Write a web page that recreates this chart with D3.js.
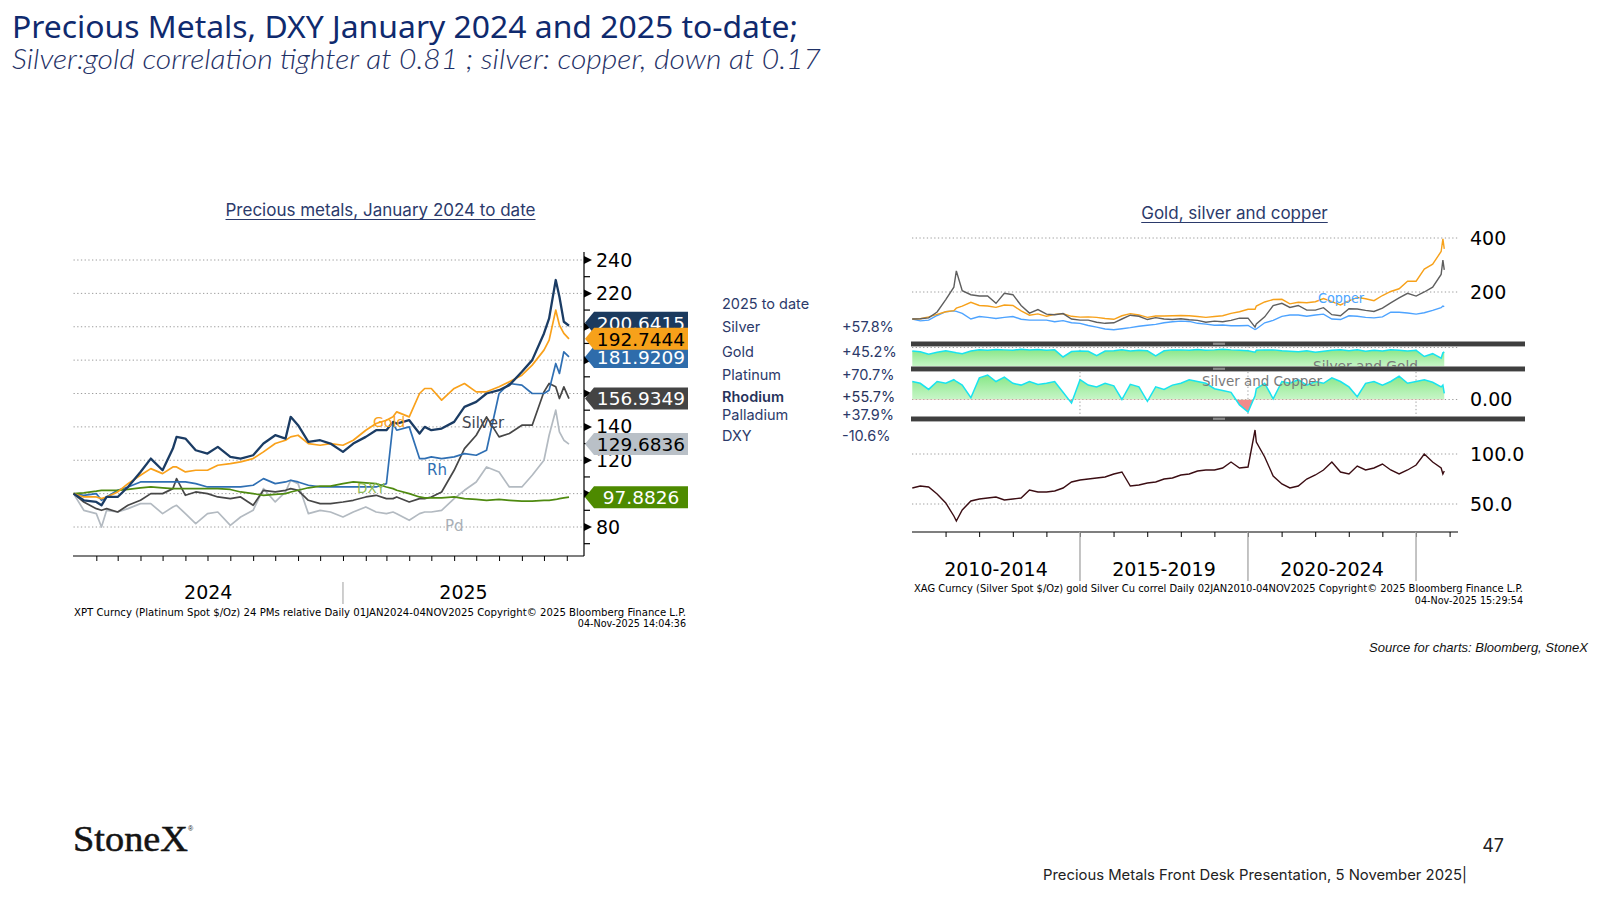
<!DOCTYPE html>
<html>
<head>
<meta charset="utf-8">
<title>Precious Metals, DXY January 2024 and 2025 to-date</title>
<script src="https://cdn.jsdelivr.net/npm/d3@7/dist/d3.min.js"></script>
<style>
  body { margin: 0; background: #fff; }
  svg { display: block; }
</style>
</head>
<body>
<svg id="slide" width="1600" height="900"></svg>
<script>
// ---------- left chart: precious metals and DXY, rebased to 100 on 01JAN2024 ----------
var pmDates = ["2024-01-01","2024-01-15","2024-02-01","2024-02-08","2024-02-15","2024-03-01",
  "2024-03-15","2024-04-01","2024-04-15","2024-05-01","2024-05-15","2024-05-20",
  "2024-06-01","2024-06-15","2024-07-01","2024-07-15","2024-08-01","2024-08-15",
  "2024-09-01","2024-09-15","2024-10-01","2024-10-15","2024-10-22","2024-11-01",
  "2024-11-15","2024-12-01","2024-12-15","2025-01-01","2025-01-15","2025-02-01",
  "2025-02-15","2025-03-01","2025-03-10","2025-03-15","2025-04-01","2025-04-15",
  "2025-04-22","2025-05-01","2025-05-15","2025-06-01","2025-06-15","2025-07-01",
  "2025-07-15","2025-08-01","2025-08-15","2025-09-01","2025-09-15","2025-10-01",
  "2025-10-08","2025-10-17","2025-10-22","2025-10-28","2025-11-04"];

var silverPM = [100, 96, 95, 93, 98, 98, 104, 113, 121, 114,
  127, 134, 133, 126, 124, 128, 122, 121, 123, 130,
  135, 133, 146, 141, 131, 132, 130, 125, 130, 134,
  138, 138, 143, 142, 144, 136, 140, 138, 139, 143,
  152, 155, 160, 162, 165, 173, 180, 196, 205, 228,
  218, 203, 200.6];
var goldPM = [100, 98, 98, 97, 98, 101, 106, 111, 115, 112,
  116, 116, 113, 114, 114, 117, 118, 119, 121, 125,
  130, 132, 134, 135, 130, 129, 130, 129, 132, 138,
  142, 144, 146, 149, 146, 160, 163, 163, 156, 163,
  166, 161, 161, 164, 167, 171, 177, 186, 192, 210,
  201, 196, 192.7];
var rhodiumPM = [100, 99, 100, 96, 98, 102, 104, 107, 107, 107,
  107, 107, 107, 106, 104, 104, 104, 104, 105, 109,
  106, 107, 108, 107, 105, 104, 104, 104, 104, 104,
  104, 106, 142, 138, 140, 121, 121, 122, 121, 122,
  124, 123, 126, 160, 166, 165, 160, 160, 162, 178,
  172, 185, 181.9];
var platinumPM = [100, 95, 91, 90, 91, 89, 93, 96, 100, 100,
  103, 109, 99, 101, 100, 98, 97, 98, 93, 102,
  101, 102, 103, 102, 96, 94, 94, 95, 96, 98,
  99, 97, 97, 98, 95, 97, 97, 98, 101, 114,
  127, 135, 146, 134, 136, 141, 141, 161, 166, 164,
  157, 164, 156.9];
var palladiumPM = [100, 90, 88, 80, 90, 89, 91, 94, 94, 88,
  92, 93, 88, 82, 88, 89, 81, 86, 90, 103,
  95, 101, 108, 106, 88, 90, 89, 86, 89, 92,
  89, 88, 89, 88, 84, 88, 89, 89, 90, 97,
  102, 107, 116, 113, 104, 104, 111, 120, 135, 150,
  137, 132, 129.7];
var dxyPM = [100, 100.5, 101.5, 102, 102, 102, 102.5, 103.5, 104, 103.5,
  103, 103, 103, 103, 103, 103, 102.5, 101, 100, 99,
  99.5, 100, 101, 102, 103.5, 104.5, 104.5, 106, 107, 106.5,
  106, 104, 103, 102, 100, 98, 97.5, 97.5, 97.5, 98,
  97, 96.5, 96, 96.5, 96, 95.5, 95.5, 96, 96, 96.5,
  97, 97.5, 97.88];

// last values shown in the tags: silver, gold, rhodium, platinum, palladium, DXY
var pmLast = [200.6415, 192.7444, 181.9209, 156.9349, 129.6836, 97.8826];
var pmTicks = [80, 100, 120, 140, 160, 180, 200, 220, 240];
var pmTickLabels = ["80", "", "120", "140", "", "", "", "220", "240"];

var ytdNames = ["Silver", "Gold", "Platinum", "Rhodium", "Palladium", "DXY"];
var ytdChange = ["+57.8%", "+45.2%", "+70.7%", "+55.7%", "+37.9%", "-10.6%"];

// ---------- right chart: gold, silver, copper since 02JAN2010 ----------
var gscDates = ["2010-01-04","2010-04-01","2010-07-01","2010-10-01",
  "2011-01-03","2011-04-01","2011-04-28","2011-07-01","2011-10-03",
  "2012-01-03","2012-04-02","2012-07-02","2012-10-01",
  "2013-01-02","2013-04-01","2013-07-01","2013-10-01",
  "2014-01-02","2014-04-01","2014-07-01","2014-10-01",
  "2015-01-02","2015-04-01","2015-07-01","2015-10-01",
  "2016-01-04","2016-04-01","2016-07-01","2016-10-03",
  "2017-01-03","2017-04-03","2017-07-03","2017-10-02",
  "2018-01-02","2018-04-02","2018-07-02","2018-10-01",
  "2019-01-02","2019-04-01","2019-07-01","2019-10-01",
  "2020-01-02","2020-03-18","2020-04-01","2020-07-01","2020-10-01",
  "2021-01-04","2021-04-01","2021-07-01","2021-10-01",
  "2022-01-03","2022-04-01","2022-07-01","2022-10-03",
  "2023-01-03","2023-04-03","2023-07-03","2023-10-02",
  "2024-01-02","2024-04-01","2024-07-01","2024-10-01",
  "2025-01-02","2025-04-01","2025-07-01","2025-10-01","2025-10-20","2025-11-04"];

var goldRel = [100, 101, 108, 117,
  127, 131, 140, 148, 162,
  150, 148, 143, 152,
  150, 130, 114, 119,
  110, 117, 120, 110,
  107, 108, 106, 102,
  99, 112, 120, 115,
  106, 111, 111, 112,
  113, 112, 109, 106,
  109, 112, 121, 127,
  136, 136, 148, 163, 172,
  173, 156, 162, 160,
  164, 176, 164, 152,
  167, 180, 175, 168,
  187, 202, 212, 240,
  240, 285, 303, 350, 397, 360];
var silverRel = [100, 101, 104, 126,
  172, 218, 278, 205, 190,
  185, 185, 158, 195,
  190, 150, 122, 135,
  118, 116, 120, 100,
  96, 96, 88, 84,
  86, 100, 114, 110,
  98, 105, 100, 98,
  101, 97, 95, 88,
  92, 90, 95, 103,
  103, 70, 82, 108, 150,
  158, 143, 150, 133,
  133, 142, 116, 112,
  138, 137, 132, 128,
  140, 160, 178, 195,
  185, 200, 218, 265, 318, 282];
var copperRel = [100, 93, 96, 113,
  127, 130, 128, 121, 100,
  109, 106, 102, 106,
  109, 99, 96, 96,
  96, 90, 94, 86,
  84, 76, 70, 63,
  60, 64, 68, 73,
  77, 80, 86, 90,
  92, 91, 84, 81,
  77, 78, 75, 75,
  76, 61, 63, 86, 95,
  110, 115, 115, 110,
  115, 118, 100, 98,
  112, 110, 106, 104,
  108, 125, 125, 122,
  118, 123, 132, 142, 148, 146];
var corrSilverGold = [0.85, 0.82, 0.72, 0.80,
  0.86, 0.80, 0.78, 0.74, 0.85,
  0.90, 0.88, 0.92, 0.90,
  0.88, 0.93, 0.90, 0.92,
  0.88, 0.90, 0.60, 0.83,
  0.85, 0.84, 0.66, 0.85,
  0.86, 0.90, 0.85, 0.88,
  0.86, 0.65, 0.86, 0.90,
  0.90, 0.88, 0.92, 0.88,
  0.90, 0.93, 0.90, 0.88,
  0.86, 0.80, 0.88, 0.90, 0.90,
  0.86, 0.84, 0.82, 0.86,
  0.80, 0.84, 0.88, 0.90,
  0.86, 0.90, 0.84, 0.88,
  0.85, 0.90, 0.88, 0.85,
  0.88, 0.62, 0.74, 0.55, 0.78, 0.81];
var corrSilverCopper = [0.50, 0.45, 0.28, 0.50,
  0.45, 0.55, 0.50, 0.40, 0.05,
  0.60, 0.68, 0.50, 0.62,
  0.45, 0.40, 0.50, 0.42,
  0.45, 0.50, 0.20, -0.10,
  0.55, 0.40, 0.35, 0.45,
  0.38, 0.00, 0.42, 0.35,
  -0.05, 0.35, 0.28, 0.40,
  0.45, 0.55, 0.50, 0.45,
  0.30, 0.25, 0.20, -0.15,
  -0.35, 0.10, 0.30, 0.45, 0.02,
  0.50, 0.45, 0.55, 0.40,
  0.50, 0.45, 0.60, 0.50,
  0.35, 0.08, 0.45, 0.50,
  0.40, 0.50, 0.65, 0.45,
  0.50, 0.55, 0.48, 0.35, 0.40, 0.17];
var goldSilverRatio = [66, 68, 67, 60,
  51, 38, 33, 44, 53,
  55, 56, 57, 54,
  55, 56, 64, 62,
  62, 63, 66, 72,
  74, 75, 76, 77,
  80, 82, 68, 69,
  71, 72, 75, 76,
  79, 80, 83, 84,
  84, 86, 92, 86,
  87, 124, 112, 97, 78,
  70, 66, 68, 75,
  79, 84, 92, 82,
  80, 88, 84, 86,
  90, 84, 80, 84,
  89, 100, 92, 86, 80, 83];

var eraLabels = ["2010-2014", "2015-2019", "2020-2024"];

// ------------------------------------------------------------------
var parse = d3.timeParse("%Y-%m-%d");
var pmD = pmDates.map(parse);
var gscD = gscDates.map(parse);
var svg = d3.select("#slide");
var BB = "'DejaVu Sans', Verdana, sans-serif";
var SLIDE = "Inter, 'Noto Sans', sans-serif";

// slide titles
svg.append("text").attr("x", 12).attr("y", 38)
  .attr("font-family", "'Noto Sans', sans-serif").attr("font-size", 31)
  .attr("fill", "#0f2a6e").attr("textLength", 786).attr("lengthAdjust", "spacingAndGlyphs")
  .text("Precious Metals, DXY January 2024 and 2025 to-date;");
svg.append("text").attr("x", 12).attr("y", 69)
  .attr("font-family", "Lato, 'Open Sans', sans-serif").attr("font-style", "italic")
  .attr("font-weight", 300).attr("font-size", 27).attr("fill", "#1f3166")
  .attr("textLength", 809).attr("lengthAdjust", "spacingAndGlyphs")
  .text("Silver:gold correlation tighter at 0.81 ; silver: copper, down at 0.17");

function chartTitle(cx, y, label) {
  var t = svg.append("text").attr("x", cx).attr("y", y).attr("text-anchor", "middle")
    .attr("font-family", SLIDE).attr("font-size", 17).attr("fill", "#2b3a6b").text(label);
  var w = t.node().getComputedTextLength();
  svg.append("line").attr("x1", cx - w / 2).attr("x2", cx + w / 2)
    .attr("y1", y + 3.5).attr("y2", y + 3.5).attr("stroke", "#2b3a6b").attr("stroke-width", 1);
}
chartTitle(380.5, 216, "Precious metals, January 2024 to date");
chartTitle(1234.5, 219, "Gold, silver and copper");

// ================= left chart =================
var gL = svg.append("g").attr("font-family", BB);
var xL = d3.scaleTime().domain([parse("2024-01-01"), parse("2025-11-04")]).range([73.5, 569]);
var yL = d3.scaleLinear().domain([80, 240]).range([527, 260]);

gL.append("g").selectAll("line").data(pmTicks).enter().append("line")
  .attr("x1", 73.5).attr("x2", 584)
  .attr("y1", function(d) { return yL(d); }).attr("y2", function(d) { return yL(d); })
  .attr("stroke", "#9c9c9c").attr("stroke-dasharray", "1.3,2.4");

var pmSeries = [
  {values: palladiumPM, color: "#b3bac1", w: 1.7},
  {values: platinumPM, color: "#474747", w: 1.7},
  {values: rhodiumPM, color: "#2f6fb3", w: 1.7},
  {values: dxyPM, color: "#4f8a10", w: 1.7},
  {values: goldPM, color: "#f9a11b", w: 1.7},
  {values: silverPM, color: "#1b3c64", w: 2.3}
];
var lineL = d3.line()
  .x(function(d, i) { return xL(pmD[i]); })
  .y(function(d) { return yL(d); });
gL.append("g").selectAll("path").data(pmSeries).enter().append("path")
  .attr("d", function(s) { return lineL(s.values); })
  .attr("fill", "none").attr("stroke", function(s) { return s.color; })
  .attr("stroke-width", function(s) { return s.w; }).attr("stroke-linejoin", "round");

// series names drawn in the plot
var pmNames = [
  {t: "Gold", x: 373, y: 427, c: "#f9a11b", s: 14},
  {t: "Silver", x: 462, y: 428, c: "#3f4650", s: 15},
  {t: "Rh", x: 427, y: 475, c: "#2f6fb3", s: 15},
  {t: "Pd", x: 445, y: 531, c: "#a9b0b7", s: 15},
  {t: "DXY", x: 357, y: 493, c: "#8dbb52", s: 13.5}
];
gL.append("g").selectAll("text").data(pmNames).enter().append("text")
  .attr("x", function(d) { return d.x; }).attr("y", function(d) { return d.y; })
  .attr("font-size", function(d) { return d.s; }).attr("fill", function(d) { return d.c; })
  .text(function(d) { return d.t; });

// axes
gL.append("line").attr("x1", 584).attr("x2", 584).attr("y1", 252).attr("y2", 556)
  .attr("stroke", "#000").attr("stroke-width", 1.2);
gL.append("line").attr("x1", 73).attr("x2", 584).attr("y1", 556).attr("y2", 556)
  .attr("stroke", "#000").attr("stroke-width", 1.2);

var monthTicks = d3.timeMonth.range(parse("2024-02-01"), parse("2025-11-02"));
gL.append("g").attr("transform", "translate(0,556)")
  .call(d3.axisBottom(xL).tickValues(monthTicks).tickSize(5).tickFormat(""))
  .call(function(g) { g.select(".domain").remove(); });

gL.append("g").attr("transform", "translate(584,0)")
  .call(d3.axisRight(yL).tickValues(pmTicks).tickSize(0).tickPadding(12)
    .tickFormat(function(d, i) { return pmTickLabels[i]; }))
  .call(function(g) { g.select(".domain").remove(); })
  .attr("font-family", BB).attr("font-size", 19);

gL.append("g").selectAll("path").data(pmTicks).enter().append("path")
  .attr("d", function(d) { var y = yL(d); return "M584," + (y - 4) + "L592," + y + "L584," + (y + 4) + "Z"; })
  .attr("fill", "#000");
gL.append("g").selectAll("line").data(d3.range(70, 241, 20)).enter().append("line")
  .attr("x1", 584).attr("x2", 590)
  .attr("y1", function(d) { return yL(d); }).attr("y2", function(d) { return yL(d); })
  .attr("stroke", "#000").attr("stroke-width", 1.2);

// last-value tags
var tagStyle = [
  {fill: "#1b3a5e", ink: "#fff"},
  {fill: "#f7a11a", ink: "#000"},
  {fill: "#2e6cab", ink: "#fff"},
  {fill: "#444444", ink: "#fff"},
  {fill: "#b9c0c7", ink: "#000"},
  {fill: "#4d8a00", ink: "#fff"}
];
var tags = pmLast.map(function(v, i) {
  return {v: v, cy: yL(v), fill: tagStyle[i].fill, ink: tagStyle[i].ink};
});
var byPos = tags.slice().sort(function(a, b) { return a.cy - b.cy; });
for (var i = byPos.length - 1; i > 0; i--) {
  if (byPos[i].cy - byPos[i - 1].cy < 16) byPos[i - 1].cy = byPos[i].cy - 16;
}
var tagOrder = [0, 2, 1, 3, 4, 5];
var tagG = gL.append("g").selectAll("g").data(tagOrder.map(function(k) { return tags[k]; }))
  .enter().append("g");
tagG.append("path")
  .attr("d", function(d) {
    return "M585," + d.cy + "L594," + (d.cy - 11) + "L688," + (d.cy - 11) +
      "L688," + (d.cy + 11) + "L594," + (d.cy + 11) + "Z";
  })
  .attr("fill", function(d) { return d.fill; });
tagG.append("text").attr("x", 641).attr("y", function(d) { return d.cy + 6.8; })
  .attr("text-anchor", "middle").attr("font-size", 18.5)
  .attr("fill", function(d) { return d.ink; })
  .text(function(d) { return d3.format(".4f")(d.v); });

// year labels and footnote
gL.append("line").attr("x1", xL(parse("2025-01-01"))).attr("x2", xL(parse("2025-01-01")))
  .attr("y1", 582).attr("y2", 604).attr("stroke", "#b5b5b5").attr("stroke-width", 1.3);
gL.append("text").attr("x", (73.5 + xL(parse("2025-01-01"))) / 2).attr("y", 599)
  .attr("text-anchor", "middle").attr("font-size", 19).text("2024");
gL.append("text").attr("x", (xL(parse("2025-01-01")) + 584) / 2).attr("y", 599)
  .attr("text-anchor", "middle").attr("font-size", 19).text("2025");
gL.append("text").attr("x", 74).attr("y", 616).attr("font-size", 9.6)
  .attr("textLength", 612).attr("lengthAdjust", "spacingAndGlyphs")
  .text("XPT Curncy (Platinum Spot  $/Oz) 24 PMs relative Daily 01JAN2024-04NOV2025    Copyright\u00a9 2025 Bloomberg Finance L.P.");
gL.append("text").attr("x", 686).attr("y", 627).attr("font-size", 9.6).attr("text-anchor", "end")
  .text("04-Nov-2025 14:04:36");

// ================= 2025 to date table =================
var tbl = svg.append("g").attr("font-family", SLIDE).attr("font-size", 14.5).attr("fill", "#2c3a6a");
tbl.append("text").attr("x", 722).attr("y", 308.5).text("2025 to date");
var rowY = [332, 356.5, 380, 401.5, 420, 440.5];
ytdNames.forEach(function(n, i) {
  var bold = n === "Rhodium";
  tbl.append("text").attr("x", 722).attr("y", rowY[i])
    .attr("font-weight", bold ? 600 : 400).attr("fill", bold ? "#27325a" : null).text(n);
  tbl.append("text").attr("x", 842).attr("y", rowY[i])
    .attr("fill", bold ? "#27325a" : null).text(ytdChange[i]);
});

// ================= right chart =================
var gR = svg.append("g").attr("font-family", BB);
var xR = d3.scaleTime().domain([parse("2010-01-01"), parse("2026-01-01")]).range([912, 1449.6]);
var yTop = d3.scaleLinear().domain([200, 400]).range([292, 238]);
var ySG = d3.scaleLinear().domain([0.2, 1]).range([366.5, 347.5]);
var ySC = d3.scaleLinear().domain([0, 1]).range([399.5, 363.5]);
var yRat = d3.scaleLinear().domain([50, 100]).range([504, 454]);
var RL = 912, RR = 1458;

var defs = svg.append("defs");
function clip(id, y0, y1) {
  defs.append("clipPath").attr("id", id).append("rect")
    .attr("x", RL).attr("y", y0).attr("width", RR - RL).attr("height", y1 - y0);
}
clip("cTop", 226, 341.5);
clip("cSG", 346, 366.5);
clip("cSCpos", 371, ySC(0));
clip("cSCneg", ySC(0), 416.5);
clip("cSC", 371, 416.5);
clip("cRat", 421, 532);
function grad(id, y0, y1) {
  var g = defs.append("linearGradient").attr("id", id).attr("gradientUnits", "userSpaceOnUse")
    .attr("x1", 0).attr("x2", 0).attr("y1", y0).attr("y2", y1);
  g.append("stop").attr("offset", 0).attr("stop-color", "#7fe57f");
  g.append("stop").attr("offset", 1).attr("stop-color", "#c9f6c9");
}
grad("gSG", 347, 367);
grad("gSC", 372, 400);

function hGrid(vals, sc) {
  gR.append("g").selectAll("line").data(vals).enter().append("line")
    .attr("x1", RL).attr("x2", RR)
    .attr("y1", function(d) { return sc(d); }).attr("y2", function(d) { return sc(d); })
    .attr("stroke", "#9c9c9c").attr("stroke-dasharray", "1.3,2.4");
}
function rLabels(vals, sc, fmt) {
  gR.append("g").attr("transform", "translate(" + RR + ",0)")
    .call(d3.axisRight(sc).tickValues(vals).tickSize(0).tickPadding(12).tickFormat(d3.format(fmt)))
    .call(function(g) { g.select(".domain").remove(); })
    .attr("font-family", BB).attr("font-size", 19);
}
var xAt = function(d, i) { return xR(gscD[i]); };

// top panel: relative performance
hGrid([200, 400], yTop);
var topLines = [
  {values: copperRel, color: "#4da3ff"},
  {values: goldRel, color: "#f7a11a"},
  {values: silverRel, color: "#5f5f5f"}
];
var lineTop = d3.line().x(xAt).y(function(d) { return yTop(d); });
gR.append("g").attr("clip-path", "url(#cTop)").selectAll("path").data(topLines).enter().append("path")
  .attr("d", function(s) { return lineTop(s.values); })
  .attr("fill", "none").attr("stroke", function(s) { return s.color; }).attr("stroke-width", 1.4);
gR.append("text").attr("x", 1318).attr("y", 303).attr("font-size", 14.5).attr("fill", "#4da6ff")
  .attr("textLength", 46).attr("lengthAdjust", "spacingAndGlyphs").text("Copper");
rLabels([200, 400], yTop, "d");

// correlation panels
var eraBounds = [parse("2015-01-01"), parse("2020-01-01"), parse("2025-01-01")];
gR.append("g").selectAll("line").data(eraBounds).enter().append("line")
  .attr("x1", function(d) { return xR(d); }).attr("x2", function(d) { return xR(d); })
  .attr("y1", 346).attr("y2", 416.5)
  .attr("stroke", "#9c9c9c").attr("stroke-dasharray", "1.3,2.4");

hGrid([1], ySG);
var pSG = gR.append("g").attr("clip-path", "url(#cSG)");
pSG.append("path").datum(corrSilverGold)
  .attr("d", d3.area().x(xAt).y0(366.5).y1(function(d) { return ySG(d); }))
  .attr("fill", "url(#gSG)");
pSG.append("path").datum(corrSilverGold)
  .attr("d", d3.line().x(xAt).y(function(d) { return ySG(d); }))
  .attr("fill", "none").attr("stroke", "#19e3ef").attr("stroke-width", 1.5);
pSG.append("text").attr("x", 1313).attr("y", 371).attr("font-size", 14.5).attr("fill", "#7a7a7a")
  .attr("textLength", 105).attr("lengthAdjust", "spacingAndGlyphs").text("Silver and Gold");

hGrid([0], ySC);
var areaSC = d3.area().x(xAt).y0(ySC(0)).y1(function(d) { return ySC(d); });
gR.append("path").datum(corrSilverCopper).attr("clip-path", "url(#cSCpos)")
  .attr("d", areaSC).attr("fill", "url(#gSC)");
gR.append("path").datum(corrSilverCopper).attr("clip-path", "url(#cSCneg)")
  .attr("d", areaSC).attr("fill", "#f28a8a");
gR.append("path").datum(corrSilverCopper).attr("clip-path", "url(#cSC)")
  .attr("d", d3.line().x(xAt).y(function(d) { return ySC(d); }))
  .attr("fill", "none").attr("stroke", "#19e3ef").attr("stroke-width", 1.5);
gR.append("text").attr("x", 1202).attr("y", 386).attr("font-size", 14.5).attr("fill", "#7a7a7a")
  .attr("textLength", 120).attr("lengthAdjust", "spacingAndGlyphs").text("Silver and Copper");
rLabels([0], ySC, ".2f");

// gold / silver ratio panel
hGrid([50, 100], yRat);
gR.append("path").datum(goldSilverRatio).attr("clip-path", "url(#cRat)")
  .attr("d", d3.line().x(xAt).y(function(d) { return yRat(d); }))
  .attr("fill", "none").attr("stroke", "#3b0d13").attr("stroke-width", 1.4);
rLabels([50, 100], yRat, ".1f");

// panel separators
[341.5, 366.5, 416.5].forEach(function(y) {
  gR.append("rect").attr("x", 911).attr("y", y).attr("width", 614).attr("height", 4.5).attr("fill", "#3f3f3f");
  gR.append("rect").attr("x", 911).attr("y", y + 4.5).attr("width", 614).attr("height", 0.8).attr("fill", "#9a9a9a");
  gR.append("rect").attr("x", 1213).attr("y", y + 1.2).attr("width", 12).attr("height", 2.2).attr("fill", "#8a8a8a");
});

// time axis
gR.append("line").attr("x1", RL).attr("x2", RR).attr("y1", 532).attr("y2", 532)
  .attr("stroke", "#000").attr("stroke-width", 1.2);
var yearTicks = d3.timeYear.range(parse("2011-01-01"), parse("2026-01-02"));
gR.append("g").attr("transform", "translate(0,532)")
  .call(d3.axisBottom(xR).tickValues(yearTicks).tickSize(5).tickFormat(""))
  .call(function(g) { g.select(".domain").remove(); });
gR.append("g").selectAll("line").data(eraBounds).enter().append("line")
  .attr("x1", function(d) { return xR(d); }).attr("x2", function(d) { return xR(d); })
  .attr("y1", 532).attr("y2", 581).attr("stroke", "#b0b0b0").attr("stroke-width", 1.5);
var eraEdges = [parse("2010-01-01")].concat(eraBounds);
gR.append("g").selectAll("text").data(eraLabels).enter().append("text")
  .attr("x", function(d, i) { return (xR(eraEdges[i]) + xR(eraEdges[i + 1])) / 2; })
  .attr("y", 576).attr("text-anchor", "middle").attr("font-size", 19)
  .text(function(d) { return d; });
gR.append("text").attr("x", 914).attr("y", 592).attr("font-size", 9.6)
  .attr("textLength", 609).attr("lengthAdjust", "spacingAndGlyphs")
  .text("XAG Curncy (Silver Spot  $/Oz) gold Silver Cu correl Daily 02JAN2010-04NOV2025 Copyright\u00a9 2025 Bloomberg Finance L.P.");
gR.append("text").attr("x", 1523).attr("y", 604).attr("font-size", 9.6).attr("text-anchor", "end")
  .text("04-Nov-2025 15:29:54");

// ================= slide footer =================
svg.append("text").attr("x", 1588).attr("y", 652).attr("text-anchor", "end")
  .attr("font-family", "'Liberation Sans', Arial, sans-serif").attr("font-style", "italic")
  .attr("font-size", 13).attr("fill", "#111").text("Source for charts: Bloomberg, StoneX");
svg.append("text").attr("x", 73).attr("y", 851)
  .attr("font-family", "'Liberation Serif', 'Times New Roman', serif").attr("font-size", 36)
  .attr("fill", "#141414").attr("stroke", "#141414").attr("stroke-width", 0.5)
  .attr("textLength", 115).attr("lengthAdjust", "spacingAndGlyphs").text("StoneX");
svg.append("text").attr("x", 188).attr("y", 831).attr("font-family", "'Liberation Sans', sans-serif")
  .attr("font-size", 7).attr("fill", "#141414").text("\u00ae");
svg.append("text").attr("x", 1504).attr("y", 852).attr("text-anchor", "end")
  .attr("font-family", SLIDE).attr("font-size", 18).attr("fill", "#222").text("47");
svg.append("text").attr("x", 1043).attr("y", 880)
  .attr("font-family", SLIDE).attr("font-size", 14.5).attr("fill", "#222")
  .attr("textLength", 424).attr("lengthAdjust", "spacingAndGlyphs")
  .text("Precious Metals Front Desk Presentation, 5 November 2025|");
</script>
</body>
</html>
